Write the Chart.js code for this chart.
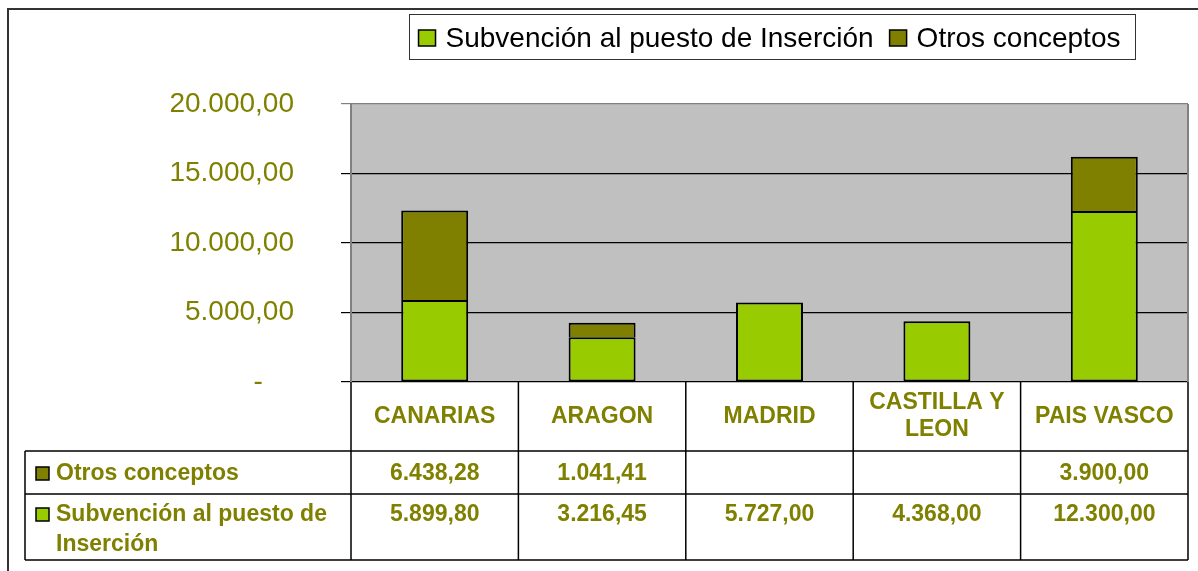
<!DOCTYPE html>
<html>
<head>
<meta charset="utf-8">
<script src="https://cdn.jsdelivr.net/npm/chart.js@4/dist/chart.umd.min.js"></script>
<style>
  html, body { margin: 0; padding: 0; background: #fff; }
  #wrap { width: 1198px; height: 571px; position: relative; }
</style>
</head>
<body>
<div id="wrap"><canvas id="grafico" width="1198" height="571"></canvas></div>
<script>
// datos
const regiones = ['CANARIAS', 'ARAGON', 'MADRID', 'CASTILLA Y LEON', 'PAIS VASCO'];
const subvencion = [5899.80, 3216.45, 5727.00, 4368.00, 12300.00];
const otros = [6438.28, 1041.41, null, null, 3900.00];
const serieNombres = ['Subvención al puesto de Inserción', 'Otros conceptos'];
const serieColores = ['#99cc00', '#808000'];
const ticksY = [0, 5000, 10000, 15000, 20000];

const OLIVA = '#808000';
const FUENTE = '"Liberation Sans", Arial, sans-serif';

// 12300 -> "12.300,00"
function formatoES(v) {
    const partes = v.toFixed(2).split('.');
    return partes[0].replace(/\B(?=(\d{3})+(?!\d))/g, '.') + ',' + partes[1];
}

function partirTexto(ctx, texto, ancho) {
    const palabras = texto.split(' ');
    const lineas = [];
    let actual = '';
    palabras.forEach(p => {
        const prueba = actual ? actual + ' ' + p : p;
        if (actual && ctx.measureText(prueba).width > ancho) {
            lineas.push(actual);
            actual = p;
        } else {
            actual = prueba;
        }
    });
    if (actual) lineas.push(actual);
    return lineas;
}

// fondo gris del area de trazado + marco exterior
const fondoPlugin = {
    id: 'fondo',
    beforeDraw(chart) {
        const { ctx, chartArea: a } = chart;
        ctx.save();
        ctx.fillStyle = '#c0c0c0';
        ctx.fillRect(a.left, a.top, a.right - a.left, a.bottom - a.top);
        // marco del grafico
        ctx.strokeStyle = '#333';
        ctx.lineWidth = 2;
        ctx.beginPath();
        ctx.moveTo(8, 571);
        ctx.lineTo(8, 9);
        ctx.lineTo(1198, 9);
        ctx.stroke();
        ctx.restore();
    },
    beforeDatasetsDraw(chart) {
        const { ctx, chartArea: a } = chart;
        ctx.save();
        ctx.strokeStyle = '#808080';
        ctx.lineWidth = 2;
        ctx.beginPath();
        ctx.moveTo(a.right, a.top);
        ctx.lineTo(a.right, a.bottom);
        ctx.stroke();
        ctx.restore();
    }
};

// leyenda con recuadro arriba
const leyendaPlugin = {
    id: 'leyendaCaja',
    afterDraw(chart) {
        const ctx = chart.ctx;
        const ds = chart.data.datasets;
        ctx.save();
        ctx.font = '28px ' + FUENTE;
        ctx.textBaseline = 'middle';
        const caja = 17, sep = 10, gap = 16;
        let total = 0;
        ds.forEach((d, i) => {
            total += caja + sep + ctx.measureText(d.label).width;
            if (i < ds.length - 1) total += gap;
        });
        const cx = (chart.chartArea.left + chart.chartArea.right) / 2;
        let x = cx - total / 2;
        const yc = 38;
        ctx.strokeStyle = '#333';
        ctx.lineWidth = 1;
        ctx.strokeRect(Math.round(x - 10) + 0.5, 14.5, Math.round(total + 24), 45);
        ds.forEach(d => {
            ctx.fillStyle = d.backgroundColor;
            ctx.fillRect(x, yc - 8, caja, 16);
            ctx.strokeStyle = '#000';
            ctx.lineWidth = 1.5;
            ctx.strokeRect(x, yc - 8, caja, 16);
            ctx.fillStyle = '#000';
            ctx.fillText(d.label, x + caja + sep, yc + 1);
            x += caja + sep + ctx.measureText(d.label).width + gap;
        });
        ctx.restore();
    }
};

// tabla de datos bajo el eje x
const tablaPlugin = {
    id: 'tablaDatos',
    afterDraw(chart) {
        const { ctx } = chart;
        const xs = chart.scales.x;
        const n = chart.data.labels.length;
        const w = (xs.right - xs.left) / n;
        const top = chart.chartArea.bottom;
        const yCab = top + 69, yF1 = yCab + 43, yF2 = 560;
        const izq = 25;
        ctx.save();
        ctx.strokeStyle = '#000';
        ctx.lineWidth = 1.5;
        ctx.beginPath();
        for (let i = 0; i <= n; i++) {
            const x = xs.left + i * w;
            ctx.moveTo(x, top);
            ctx.lineTo(x, yF2);
        }
        [yCab, yF1, yF2].forEach(y => {
            ctx.moveTo(izq, y);
            ctx.lineTo(xs.right, y);
        });
        ctx.moveTo(izq, yCab);
        ctx.lineTo(izq, yF2);
        ctx.stroke();

        ctx.fillStyle = OLIVA;
        ctx.font = 'bold 23px ' + FUENTE;
        ctx.textAlign = 'center';
        ctx.textBaseline = 'middle';
        // cabeceras
        chart.data.labels.forEach((lab, i) => {
            const cx = xs.left + (i + 0.5) * w;
            const lineas = partirTexto(ctx, lab, w - 14);
            const y0 = (top + yCab) / 2 - (lineas.length - 1) * 27 / 2;
            lineas.forEach((l, k) => ctx.fillText(l, cx, y0 + k * 27));
        });
        // filas: Otros arriba, Subvencion abajo
        const filas = [
            { ds: chart.data.datasets[1], y: yCab + 23 },
            { ds: chart.data.datasets[0], y: yF1 + 21 }
        ];
        filas.forEach(f => {
            ctx.textAlign = 'left';
            ctx.fillStyle = f.ds.backgroundColor;
            ctx.fillRect(36, f.y - 7, 13, 13);
            ctx.strokeStyle = '#000';
            ctx.lineWidth = 1.5;
            ctx.strokeRect(36, f.y - 7, 13, 13);
            ctx.fillStyle = OLIVA;
            const lineas = partirTexto(ctx, f.ds.label, xs.left - 62);
            lineas.forEach((l, k) => ctx.fillText(l, 56, f.y + k * 30));
            ctx.textAlign = 'center';
            f.ds.data.forEach((v, i) => {
                if (v === null) return;
                ctx.fillText(formatoES(v), xs.left + (i + 0.5) * w, f.y);
            });
        });
        ctx.restore();
    }
};

new Chart(document.getElementById('grafico'), {
    type: 'bar',
    data: {
        labels: regiones,
        datasets: [
            { label: serieNombres[0], data: subvencion, backgroundColor: serieColores[0], borderSkipped: false },
            { label: serieNombres[1], data: otros, backgroundColor: serieColores[1], borderSkipped: 'bottom' }
        ]
    },
    options: {
        responsive: false,
        animation: false,
        layout: { padding: { top: 104, bottom: 189, right: 10, left: 0 } },
        datasets: {
            bar: {
                borderColor: '#000',
                borderWidth: 2,
                categoryPercentage: 1,
                barPercentage: 0.4
            }
        },
        plugins: {
            legend: { display: false },
            tooltip: { enabled: false }
        },
        scales: {
            x: { stacked: true, display: false },
            y: {
                stacked: true,
                min: ticksY[0],
                max: ticksY[ticksY.length - 1],
                afterBuildTicks: s => { s.ticks = ticksY.map(v => ({ value: v })); },
                afterFit: s => { s.width = 351; },
                ticks: {
                    color: OLIVA,
                    font: { family: FUENTE, size: 28 },
                    padding: 47,
                    callback: v => v === 0 ? '-    ' : formatoES(v)
                },
                grid: {
                    color: c => (c.tick && c.tick.value === 20000) ? '#808080' : '#000',
                    lineWidth: 1.2,
                    tickLength: 10
                },
                border: { color: '#808080', width: 2 }
            }
        }
    },
    plugins: [fondoPlugin, leyendaPlugin, tablaPlugin]
});
</script>
</body>
</html>
